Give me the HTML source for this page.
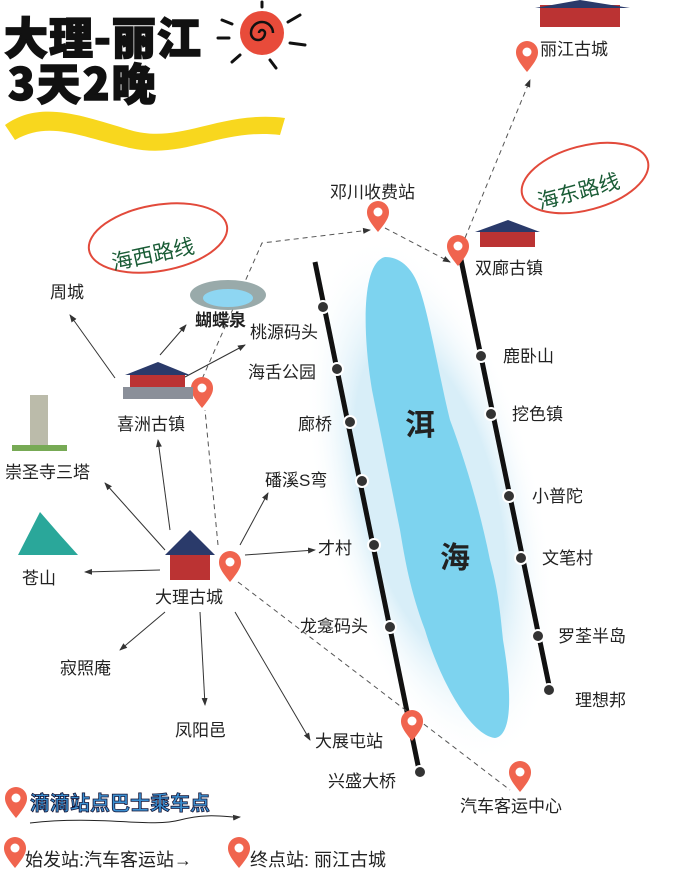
<!DOCTYPE html>
<html><head><meta charset="utf-8"><style>
body{margin:0;background:#fff;}
svg text{font-family:"Liberation Sans","Noto Sans CJK SC",sans-serif;fill:#222;}
</style></head><body>
<svg width="677" height="878" viewBox="0 0 677 878" xmlns="http://www.w3.org/2000/svg">
<defs>
<marker id="ar" markerWidth="8" markerHeight="8" refX="7" refY="4" orient="auto"><path d="M0,1 L8,4 L0,7 Z" fill="#333"/></marker>
<radialGradient id="glow" cx="50%" cy="50%" r="50%"><stop offset="60%" stop-color="#d8eef8"/><stop offset="100%" stop-color="#fff" stop-opacity="0"/></radialGradient>
<g id="pin"><path d="M0,0 C-10,-12 -11,-16 -11,-20 A11,11 0 1 1 11,-20 C11,-16 10,-12 0,0Z" fill="#f0644e"/><circle cx="0" cy="-20" r="4.5" fill="#fff"/></g>
</defs>
<!-- title -->
<text x="4" y="54" font-size="44" font-weight="900" letter-spacing="1" style="font-family:'Noto Sans CJK SC',sans-serif;fill:#111;stroke:#111;stroke-width:1.5">大理-丽江</text>
<text x="8" y="100" font-size="44" font-weight="900" letter-spacing="2" style="font-family:'Noto Sans CJK SC',sans-serif;fill:#111;stroke:#111;stroke-width:1.5">3天2晚</text>
<path d="M5,125 C40,100 80,115 130,130 C180,145 220,110 285,118 L280,135 C220,128 185,160 130,148 C80,137 50,120 15,140 Z" fill="#f8d71e"/>
<circle cx="262" cy="33" r="22" fill="#e84b3a"/>
<path d="M262,33 m-3,0 a3,3 0 1 1 6,0 a7,7 0 1 1 -14,0 a11,11 0 1 1 22,0" fill="none" stroke="#111" stroke-width="2.5"/>
<g stroke="#111" stroke-width="3" stroke-linecap="round"><line x1="262" y1="2" x2="262" y2="7"/><line x1="222" y1="20" x2="232" y2="24"/><line x1="218" y1="38" x2="229" y2="38"/><line x1="232" y1="62" x2="240" y2="55"/><line x1="270" y1="60" x2="276" y2="68"/><line x1="290" y1="43" x2="305" y2="45"/><line x1="288" y1="22" x2="300" y2="15"/></g>
<!-- lake -->
<ellipse cx="430" cy="500" rx="110" ry="270" fill="url(#glow)" transform="rotate(-14 430 500)"/>
<path d="M385,257 C362,262 362,330 372,390 L400,530 C405,560 410,590 425,630 C440,680 470,735 495,738 C515,735 510,680 503,640 C500,610 498,590 490,560 C480,510 465,460 450,420 C440,380 430,320 420,290 C412,265 398,257 385,257 Z" fill="#7dd3ef"/>
<text x="405" y="435" font-size="30" font-weight="bold">洱</text>
<text x="440" y="568" font-size="30" font-weight="bold">海</text>
<!-- roads -->
<line x1="315" y1="262" x2="420" y2="775" stroke="#111" stroke-width="5"/>
<line x1="460" y1="255" x2="550" y2="690" stroke="#111" stroke-width="5"/>
<g fill="#333" stroke="#fff" stroke-width="2">
<circle cx="323" cy="307" r="6"/><circle cx="337" cy="369" r="6"/><circle cx="350" cy="422" r="6"/><circle cx="362" cy="481" r="6"/><circle cx="374" cy="545" r="6"/><circle cx="390" cy="627" r="6"/><circle cx="420" cy="772" r="6"/>
<circle cx="481" cy="356" r="6"/><circle cx="491" cy="414" r="6"/><circle cx="509" cy="496" r="6"/><circle cx="521" cy="558" r="6"/><circle cx="538" cy="636" r="6"/><circle cx="549" cy="690" r="6"/>
</g>
<g font-size="17">
<text x="250" y="338">桃源码头</text><text x="248" y="378">海舌公园</text><text x="298" y="430">廊桥</text><text x="265" y="486">磻溪S弯</text><text x="318" y="554">才村</text><text x="300" y="632">龙龛码头</text><text x="315" y="747">大展屯站</text><text x="328" y="787">兴盛大桥</text>
<text x="503" y="362">鹿卧山</text><text x="512" y="420">挖色镇</text><text x="532" y="502">小普陀</text><text x="542" y="564">文笔村</text><text x="558" y="642">罗荃半岛</text><text x="575" y="706">理想邦</text>
<text x="50" y="298">周城</text><text x="195" y="326" font-weight="bold">蝴蝶泉</text><text x="117" y="430">喜洲古镇</text><text x="5" y="478">崇圣寺三塔</text><text x="22" y="584">苍山</text><text x="155" y="603">大理古城</text><text x="60" y="674">寂照庵</text><text x="175" y="736">凤阳邑</text>
<text x="330" y="198">邓川收费站</text><text x="475" y="274">双廊古镇</text><text x="540" y="55">丽江古城</text><text x="460" y="812">汽车客运中心</text>
</g>
<!-- arrows -->
<g stroke="#333" stroke-width="1" fill="none" marker-end="url(#ar)">
<line x1="115" y1="378" x2="70" y2="315"/><line x1="160" y1="355" x2="186" y2="325"/><line x1="185" y1="377" x2="245" y2="345"/>
<line x1="165" y1="550" x2="105" y2="483"/><line x1="160" y1="570" x2="85" y2="572"/><line x1="170" y1="530" x2="158" y2="440"/><line x1="240" y1="545" x2="268" y2="493"/><line x1="245" y1="555" x2="315" y2="550"/><line x1="165" y1="612" x2="120" y2="650"/><line x1="200" y1="612" x2="205" y2="705"/><line x1="235" y1="612" x2="310" y2="740"/>
</g>
<g stroke="#555" stroke-width="1" fill="none" stroke-dasharray="5,4">
<polyline points="195,395 262,243 370,230" marker-end="url(#ar)"/><line x1="385" y1="228" x2="450" y2="262" marker-end="url(#ar)"/><line x1="465" y1="238" x2="530" y2="80" marker-end="url(#ar)"/><line x1="238" y1="582" x2="510" y2="790"/><line x1="218" y1="545" x2="205" y2="410"/>
</g>
<!-- pins -->
<use href="#pin" x="378" y="232"/><use href="#pin" x="458" y="266"/><use href="#pin" x="202" y="408"/><use href="#pin" x="230" y="582"/><use href="#pin" x="412" y="741"/><use href="#pin" x="527" y="72"/><use href="#pin" x="520" y="792"/>
<!-- buildings simple -->
<g fill="#b33"><rect x="130" y="375" width="55" height="12"/><rect x="170" y="555" width="40" height="25"/><rect x="480" y="232" width="55" height="15"/><rect x="540" y="5" width="80" height="22"/></g>
<g fill="#2a3a6a"><path d="M125,375 L158,362 L190,375Z"/><path d="M165,555 L190,530 L215,555Z"/><path d="M475,232 L508,220 L540,232Z"/><path d="M535,8 L580,0 L630,8Z"/></g>
<rect x="123" y="387" width="70" height="12" fill="#8a8f99"/>
<rect x="30" y="395" width="18" height="50" fill="#bba"/><rect x="12" y="445" width="55" height="6" fill="#7a5"/>
<path d="M18,555 L40,512 L60,535 L78,555Z" fill="#2aa79a"/>
<ellipse cx="228" cy="295" rx="38" ry="15" fill="#9aa"/><ellipse cx="228" cy="298" rx="25" ry="9" fill="#8ed6f2"/>
<!-- annotations -->
<ellipse cx="158" cy="238" rx="70" ry="33" fill="none" stroke="#e24a3b" stroke-width="2" transform="rotate(-10 158 238)"/>
<text x="110" y="262" font-size="21" transform="rotate(-12 150 250)" style="fill:#1a5c36">海西路线</text>
<ellipse cx="585" cy="178" rx="65" ry="32" fill="none" stroke="#e24a3b" stroke-width="2" transform="rotate(-15 585 178)"/>
<text x="535" y="198" font-size="21" transform="rotate(-15 580 185)" style="fill:#1a5c36">海东路线</text>
<!-- legend -->
<use href="#pin" x="16" y="818"/>
<text x="30" y="810" font-size="20" font-weight="bold" style="fill:#3b8fd0;stroke:#113;stroke-width:0.8">滴滴站点巴士乘车点</text>
<path d="M30,823 C100,815 150,828 180,820 S230,818 240,817" stroke="#222" fill="none" marker-end="url(#ar)"/>
<use href="#pin" x="15" y="868"/><use href="#pin" x="239" y="868"/>
<text x="25" y="866" font-size="18">始发站:汽车客运站→</text>
<text x="250" y="866" font-size="18">终点站: 丽江古城</text>
</svg>
</body></html>
